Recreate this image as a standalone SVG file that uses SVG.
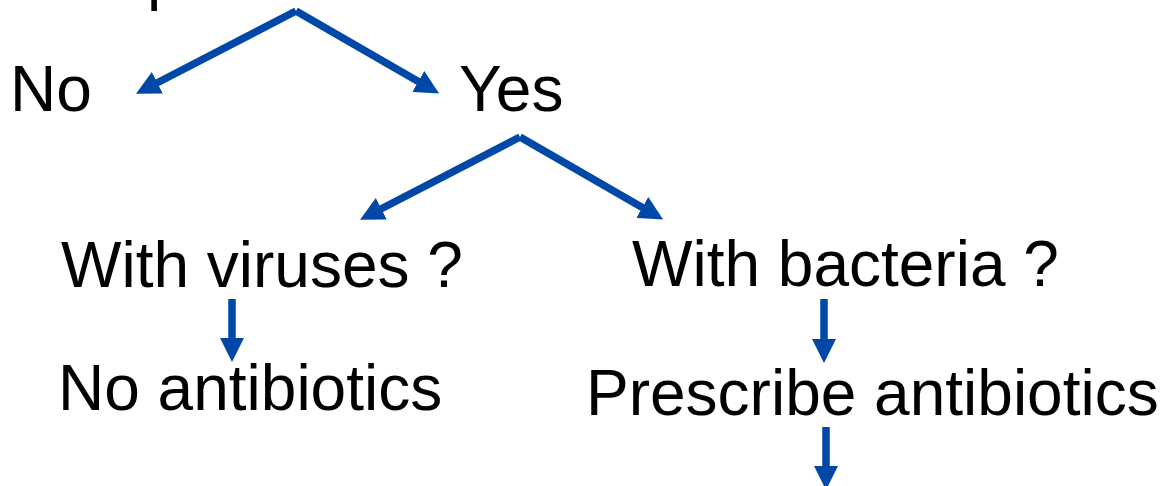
<svg xmlns="http://www.w3.org/2000/svg" width="1161" height="486" viewBox="0 0 1161 486">
  <style>
    .t { font-family: "Liberation Sans", Arial, sans-serif; font-size: 64px; fill: #000; }
    .c { stroke: #0048A8; stroke-width: 7.5; fill: none; marker-end: url(#ah); }
  </style>
  <defs>
    <marker id="ah" viewBox="0 0 24 24" refX="6" refY="12" markerWidth="24" markerHeight="24" markerUnits="userSpaceOnUse" orient="auto">
      <path d="M0,0 L24,12 L0,24 z" fill="#0048A8"/>
    </marker>
  </defs>
  <rect width="1161" height="486" fill="#fff"/>
  <g id="top-node"><text class="t" x="147" y="-2">p</text></g>
  <g id="no"><text class="t" x="10" y="111">No</text></g>
  <g id="yes"><text class="t" x="459" y="111">Yes</text></g>
  <g id="viruses"><text class="t" x="61" y="287">With viruses ?</text></g>
  <g id="bacteria"><text class="t" x="632" y="286">With bacteria ?</text></g>
  <g id="no-antibiotics"><text class="t" x="58" y="410">No antibiotics</text></g>
  <g id="prescribe"><text class="t" x="586" y="415">Prescribe antibiotics</text></g>
  <g id="connectors">
    <line class="c" x1="296" y1="11" x2="152" y2="85.5"/>
    <line class="c" x1="296" y1="11" x2="423.5" y2="84.5"/>
    <line class="c" x1="520" y1="137" x2="376" y2="211.5"/>
    <line class="c" x1="520" y1="137" x2="647.5" y2="210.5"/>
    <line class="c" x1="232" y1="299" x2="232" y2="344"/>
    <line class="c" x1="824" y1="299" x2="824" y2="345"/>
    <line class="c" x1="826" y1="427" x2="826" y2="472"/>
  </g>
</svg>
